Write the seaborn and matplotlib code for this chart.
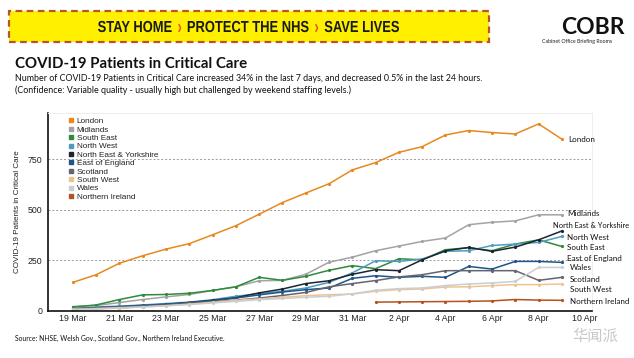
import numpy as np
import pandas as pd
import seaborn as sns
import matplotlib.pyplot as plt
from matplotlib.patches import Rectangle, PathPatch
from matplotlib.lines import Line2D
from matplotlib.textpath import TextPath
from matplotlib.path import Path
from matplotlib.font_manager import FontProperties
from matplotlib.transforms import Affine2D, IdentityTransform

sns.set_theme(style="white")
plt.rcParams['font.family'] = ['Liberation Sans', 'DejaVu Sans']

# Daily critical care counts, 19 Mar - 9 Apr 2020
dates = pd.date_range("2020-03-19", "2020-04-09", freq="D")
regions = ["London", "Midlands", "South East", "North West", "North East & Yorkshire",
           "East of England", "Scotland", "South West", "Wales", "Northern Ireland"]
london = [140, 178, 235, 272, 305, 332, 376, 421, 478, 536, 583, 629, 698, 734, 785, 813, 871, 893, 883, 876, 926, 850]
midlands = [20, 25, 40, 55, 68, 80, 100, 118, 148, 150, 180, 240, 265, 297, 320, 343, 360, 426, 438, 445, 475, 475]
south_east = [18, 28, 55, 78, 80, 86, 100, 118, 165, 150, 170, 200, 223, 208, 257, 252, 302, 312, 297, 330, 351, 318]
north_west = [10, 18, 22, 28, 35, 42, 54, 71, 84, 96, 112, 140, 187, 247, 244, 256, 294, 297, 323, 330, 338, 368]
ne_yorks = [5, 10, 14, 20, 30, 40, 51, 64, 88, 107, 134, 148, 180, 203, 198, 252, 297, 313, 294, 315, 351, 395]
east_eng = [8, 14, 20, 26, 32, 40, 50, 62, 78, 92, 104, 112, 160, 173, 165, 170, 165, 219, 206, 244, 244, 239]
scotland = [10, 14, 18, 22, 28, 36, 44, 52, 62, 75, 90, 118, 134, 149, 167, 178, 198, 198, 198, 198, 150, 165]
south_west = [5, 8, 12, 18, 24, 32, 41, 51, 58, 66, 74, 79, 82, 96, 104, 107, 117, 118, 124, 129, 129, 132]
wales = [6, 10, 14, 18, 24, 30, 38, 46, 54, 60, 66, 71, 83, 101, 109, 112, 124, 132, 137, 145, 214, 214]
n_ireland = [np.nan] * 13 + [42, 43, 44, 45, 46, 48, 55, 52, 51]

series = [london, midlands, south_east, north_west, ne_yorks,
          east_eng, scotland, south_west, wales, n_ireland]
colors = ["#e8891f", "#a3a3a3", "#2f8a3c", "#4f9cc0", "#1e2430",
          "#1f5689", "#65656f", "#f2c28e", "#c9ced3", "#b5521f"]

df = pd.concat([pd.DataFrame({"date": dates, "value": s, "region": r})
                for r, s in zip(regions, series)])
df = df.dropna()

W, H = 634, 358
fig = plt.figure(figsize=(W / 100, H / 100), dpi=100)
ax = fig.add_axes([48 / W, 1 - 311 / H, 544 / W, 198 / H])

sns.lineplot(data=df, x="date", y="value", hue="region", hue_order=regions,
             palette=dict(zip(regions, colors)), marker="o", markersize=2.3,
             markeredgewidth=0, linewidth=1.1, legend=False, ax=ax)

ax.set_xlim(pd.Timestamp("2020-03-17 22:20"), pd.Timestamp("2020-04-10 07:00"))
ax.set_ylim(-2, 980)
ax.set_yticks([0, 250, 500, 750])
ticks = pd.date_range("2020-03-19", "2020-04-10", freq="2D")
ax.set_xticks(ticks)
ax.set_xticklabels([f"{d.day} {d.strftime('%b')}" for d in ticks])
ax.tick_params(axis="both", length=0, labelsize=6.3, colors="#222222")
ax.tick_params(axis="x", pad=2.5)
ax.tick_params(axis="y", pad=4)
ax.set_xlabel("")
ax.set_ylabel("COVID-19 Patients in Critical Care", fontsize=5.8, color="#222222", labelpad=5)
for y in [250, 500, 750]:
    ax.axhline(y, color="#9a9a9a", lw=0.7, ls=(0, (2, 2)), zorder=0)
for side in ["top", "right"]:
    ax.spines[side].set_color("#eeeeee")
    ax.spines[side].set_linewidth(0.8)
for side in ["left", "bottom"]:
    ax.spines[side].set_color("#111111")
    ax.spines[side].set_linewidth(1.2)

# legend with square markers
handles = [Line2D([], [], ls="", marker="s", markersize=2.8, color=c) for c in colors]
leg = ax.legend(handles, regions, loc="upper left", bbox_to_anchor=(0.03, 1.0),
                frameon=False, fontsize=5.9, handlelength=0.5, handletextpad=0.45,
                labelspacing=0.08, borderaxespad=0.15)
for t in leg.get_texts():
    t.set_color("#222222")

# end labels
end_labels = [("London", 568, 139), ("Midlands", 567, 214),
              ("North East & Yorkshire", 553, 225), ("North West", 567, 237),
              ("South East", 567, 248), ("East of England", 567, 259),
              ("Wales", 570, 268), ("Scotland", 570, 279),
              ("South West", 570, 290), ("Northern Ireland", 570, 301)]
for name, px, py in end_labels:
    fs = 5.4 if name.startswith("North East") else 5.8
    fig.text(px / W, 1 - py / H, name, fontsize=fs, va="center", ha="left",
             color="#111111", family=["Lato", "DejaVu Sans"])

# banner
banner = Rectangle((9 / W, 1 - 42 / H), 480 / W, 31 / H, transform=fig.transFigure,
                   facecolor="#fff000", edgecolor="#b9532c", lw=1.6, ls=(0, (3, 2)))
fig.patches.append(banner)

# banner slogan drawn as a condensed text path
fp = FontProperties(family="Liberation Sans", weight="bold")
parts = [("STAY HOME", "#1a1a1a"), ("›", "#e8541e"), ("PROTECT THE NHS", "#1a1a1a"),
         ("›", "#e8541e"), ("SAVE LIVES", "#1a1a1a")]
gap = 5.0
xoff = 0.0
pieces = []
for s, c in parts:
    p = TextPath((0, 0), s, size=10, prop=fp)
    ext = p.get_extents()
    v = p.vertices.copy()
    v[:, 0] += xoff - ext.x0
    pieces.append((Path(v, p.codes), c))
    xoff += ext.width + gap
total_w = xoff - gap
cap_h = TextPath((0, 0), "H", size=10, prop=fp).get_extents().height
sx, sy = 301 / total_w, 11 / cap_h
tr = Affine2D().scale(sx, sy).translate(98, H - 32)
for path, c in pieces:
    if c != "#1a1a1a":
        path = Path(path.vertices * [1, 1.25] + [0, -0.8], path.codes)
    fig.add_artist(PathPatch(path, transform=tr + IdentityTransform(),
                             facecolor=c, edgecolor="none", zorder=5))

# COBR logo text
fig.text(561 / W, 1 - 27 / H, "COBR", fontsize=16.5, fontweight="bold",
         ha="left", va="center", color="#111111", family=["Lato", "DejaVu Sans"])
fig.text(577 / W, 1 - 42 / H, "Cabinet Office Briefing Rooms", fontsize=3.8,
         ha="center", va="center", color="#222222", family=["Lato", "DejaVu Sans"])

# titles
fig.text(15 / W, 1 - 64 / H, "COVID-19 Patients in Critical Care", fontsize=10.8,
         fontweight="bold", ha="left", va="center", color="#111111",
         family=["Lato", "DejaVu Sans"])
fig.text(15 / W, 1 - 78.5 / H,
         "Number of COVID-19 Patients in Critical Care increased 34% in the last 7 days, "
         "and decreased 0.5% in the last 24 hours.",
         fontsize=6.4, ha="left", va="center", color="#111111",
         family=["Lato", "DejaVu Sans"])
fig.text(15 / W, 1 - 90.5 / H,
         "(Confidence: Variable quality - usually high but challenged by weekend staffing levels.)",
         fontsize=6.4, ha="left", va="center", color="#111111",
         family=["Lato", "DejaVu Sans"])
fig.text(15 / W, 1 - 338 / H,
         "Source: NHSE, Welsh Gov., Scotland Gov., Northern Ireland Executive.",
         fontsize=4.9, ha="left", va="center", color="#111111",
         family=["Lato", "DejaVu Sans"])
fig.text(618 / W, 1 - 336 / H, "华闻派", fontsize=11, ha="right", va="center",
         color="#c8c8c8", family=["Noto Sans CJK SC", "DejaVu Sans"])

fig.savefig("out.png", dpi=100)
